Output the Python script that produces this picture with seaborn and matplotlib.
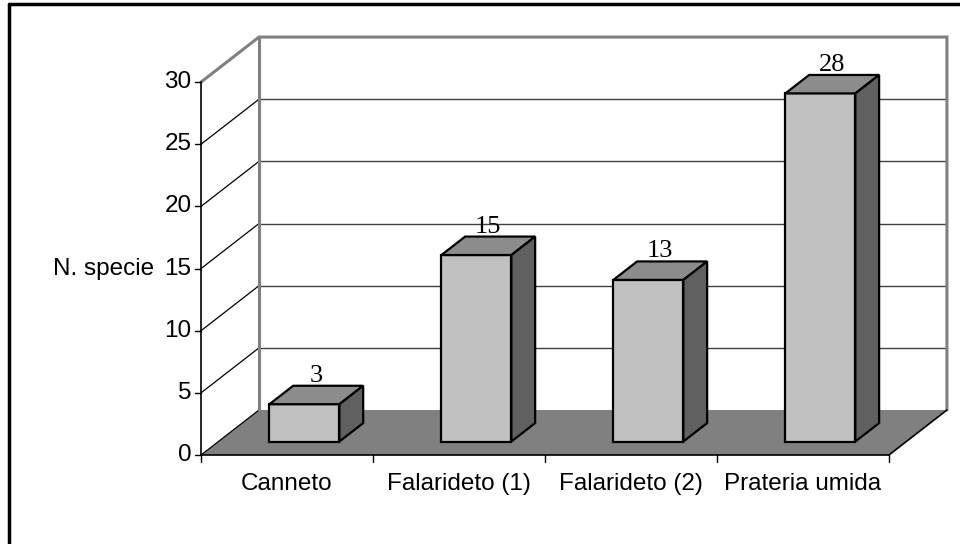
import matplotlib
matplotlib.use("Agg")
import matplotlib.pyplot as plt
from matplotlib.patches import Polygon
from matplotlib.lines import Line2D
import seaborn as sns

categories = ["Canneto", "Falarideto (1)", "Falarideto (2)", "Prateria umida"]
values = [3, 15, 13, 28]
y_ticks = [0, 5, 10, 15, 20, 25, 30]
y_label = "N. specie"

# oblique "3D" depth offset, in data units
DX = 0.337
DY = 3.62
D_FRONT = 0.30
D_BACK = 0.71

sns.set_style("white")
plt.rcParams["font.family"] = ["Liberation Sans", "DejaVu Sans"]
plt.rcParams["text.color"] = "black"

fig = plt.figure(figsize=(9.6, 5.44), dpi=100)
ax = fig.add_axes([0, 0, 1, 1])

sns.barplot(x=categories, y=values, ax=ax, width=0.407, color="#c0c0c0",
            saturation=1, edgecolor="black", linewidth=1.6, zorder=5)

ax.set_xlim(-1.669, 3.913)
ax.set_ylim(-7.158, 36.6)
ax.axis("off")

x0, x1 = -0.5, len(categories) - 0.5
ymax = y_ticks[-1]

# floor
ax.add_patch(Polygon([(x0, 0), (x1, 0), (x1 + DX, DY), (x0 + DX, DY)],
                     closed=True, facecolor="#808080", edgecolor="none", zorder=1))
ax.plot([x0, x1], [0, 0], color="black", lw=1.2, zorder=2)
ax.plot([x1, x1 + DX], [0, DY], color="black", lw=1.2, zorder=2)

# back wall grid + left wall diagonals
for v in y_ticks:
    if v == 0 or v == ymax:
        continue
    ax.plot([x0 + DX, x1 + DX], [v + DY, v + DY], color="#404040", lw=1.0, zorder=1)
    ax.plot([x0, x0 + DX], [v, v + DY], color="black", lw=0.9, zorder=1)
ax.plot([x0, x0 + DX], [0, DY], color="black", lw=0.9, zorder=1)

# wall frame (gray)
ax.plot([x0, x0 + DX, x1 + DX, x1 + DX], [ymax, ymax + DY, ymax + DY, DY],
        color="#808080", lw=2.2, zorder=1, solid_joinstyle="miter")
ax.plot([x0 + DX, x0 + DX], [DY, ymax + DY], color="#808080", lw=2.2, zorder=1)

# front value axis
ax.plot([x0, x0], [0, ymax], color="black", lw=1.2, zorder=3)
for v in y_ticks:
    ax.plot([x0 - 0.035, x0], [v, v], color="black", lw=1.0, zorder=3)
    ax.text(x0 - 0.055, v, str(v), ha="right", va="center", fontsize=17.5)
for i in range(len(categories) + 1):
    xb = x0 + i
    ax.plot([xb, xb], [0, -0.6], color="black", lw=1.0, zorder=3)
for i, c in enumerate(categories):
    ax.text(i, -2.3, c, ha="center", va="center", fontsize=17.5)
ax.text(-1.064, 15, y_label, ha="center", va="center", fontsize=17.5)

# turn the flat bars into boxes
for p, v in zip(ax.patches[:len(values)], values):
    bx = p.get_x() + D_FRONT * DX
    by = D_FRONT * DY
    w = p.get_width()
    h = p.get_height()
    p.set_x(bx)
    p.set_y(by)
    ddx = (D_BACK - D_FRONT) * DX
    ddy = (D_BACK - D_FRONT) * DY
    top = [(bx, by + h), (bx + w, by + h), (bx + w + ddx, by + h + ddy), (bx + ddx, by + h + ddy)]
    side = [(bx + w, by), (bx + w + ddx, by + ddy), (bx + w + ddx, by + h + ddy), (bx + w, by + h)]
    ax.add_patch(Polygon(top, closed=True, facecolor="#8c8c8c", edgecolor="black",
                         lw=1.6, zorder=5, joinstyle="miter"))
    ax.add_patch(Polygon(side, closed=True, facecolor="#606060", edgecolor="black",
                         lw=1.6, zorder=5, joinstyle="miter"))
    ax.text(bx + w / 2 + 0.5 * ddx, by + h + ddy + 0.32, str(v),
            ha="center", va="baseline", fontsize=19, family="Liberation Serif")

# chart border (left and top edges visible)
fig.add_artist(Line2D([9 / 960, 9 / 960], [0, 1 - 4 / 544], transform=fig.transFigure,
                      color="black", lw=2.5))
fig.add_artist(Line2D([9 / 960, 1], [1 - 4 / 544, 1 - 4 / 544], transform=fig.transFigure,
                      color="black", lw=2.5))

fig.savefig("out.png", dpi=100)
